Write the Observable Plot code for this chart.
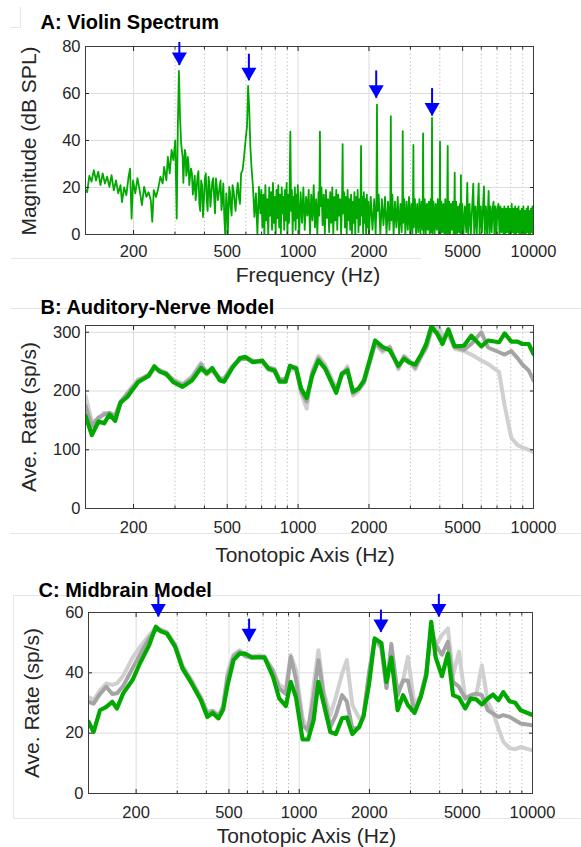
<!DOCTYPE html>
<html>
<head>
<meta charset="utf-8">
<script src="https://cdn.jsdelivr.net/npm/d3@7"></script>
<script src="https://cdn.jsdelivr.net/npm/@observablehq/plot@0.6"></script>
<style>
  body { margin: 0; background: #fff; }
  #wrap { position: relative; width: 581px; height: 847px; overflow: hidden; font-family: "Liberation Sans", Arial, sans-serif; background: #fff; }
  .title { position: absolute; font-weight: bold; font-size: 20px; line-height: 1; color: #000; white-space: nowrap; }
  .xlab { position: absolute; font-size: 21px; line-height: 1; color: #262626; white-space: nowrap; transform: translateX(-50%); }
  .ylab { position: absolute; font-size: 21px; line-height: 1; color: #262626; white-space: nowrap; transform: translate(-50%, -50%) rotate(-90deg); }
  .hl { position: absolute; height: 0; border-top: 1px solid #e6e6e6; }
  .vl { position: absolute; width: 0; border-left: 1px solid #e6e6e6; }
</style>
</head>
<body>
<div id="wrap"></div>
<script>
// ---------------- DATA ----------------
const majorHz = [200, 500, 1000, 2000, 5000, 10000];
const minorHz = [300, 400, 600, 700, 800, 900, 3000, 4000, 6000, 7000, 8000, 9000];

// Panel A: violin spectrum, [frequency Hz, magnitude dB SPL]
const violinSpectrum = [
  [125,19],[127,18],[129.8,25],[132.6,22.5],[135.6,27.4],[138.5,23],[141.6,26.7],[144.7,21],[147.9,26],[151.1,21.7],
  [154.5,24.6],[157.9,20.3],[161.3,25.3],[164.9,18.8],[168.5,23],[172.2,17.5],[176,21],[178.6,13.8],[182.4,20],[186.4,16.7],
  [190.5,24.6],[193.3,28],[196.2,6.8],[199,23],[203.4,17.5],[207.8,24],[212.3,18.9],[217.1,12.5],[221.8,20.3],[226.7,16],
  [231.7,18],[236.7,14.6],[240.2,5.4],[243.7,18.9],[249.1,16],[254.6,19.6],[260.2,24.6],[265.9,21.7],[269.8,28.8],[275.7,23],
  [279.7,33],[284.8,26],[290.1,36],[295.2,31.7],[300.7,40],[305.1,6.8],[308.4,46],[311.7,69.6],[315.1,50],[318.5,38.8],
  [323.2,33],[325.5,22],[327.9,30],[330.3,36],[332.7,34.5],[335,25],[337.6,27.4],[340,33],[342.5,30],[345,21],[347.6,24.6],
  [350.8,28],[354,26],[357.2,17],[360.5,20.3],[363.8,25],[367.1,14.6],[370.4,19],[373.8,24.6],[377.2,27],[380.6,13.2],[384,10],
  [387.5,23],[391,21],[394.6,7.5],[398.2,15],[401.8,23.9],[405.4,26],[409.1,14.6],[412.8,10],[416.6,24.6],[420.4,21],[424.2,11.8],
  [428,17],[432,22.5],[436,24],[439.9,16],[443.9,9],[447.9,23.9],[452,20],[456.1,14.6],[460.1,17],[464.2,20.3],[468.4,23],
  [472.7,10.4],[477,15],[481.3,21.7],[485.7,8],[490.1,0],[495.4,17.5],[499,12],[502.6,0],[506.2,9],[509.9,20.3],[513.6,18],
  [517.4,11.8],[522,8],[526.8,21],[531.6,19],[536.5,14.6],[542.4,10],[548.3,17.5],[554.3,22],[560.3,16],[566.4,13],[572.6,26],
  [581,27.4],[589.5,33],[598.1,40],[606.8,46],[613.4,63.2],[620.1,53.4],
  [626.9,37.4],[633.8,28.8],[643,20.3],[652.4,7.5],[662,17.5],[671.6,0],[681.5,20.3],[691.4,9],
  [698,19],[705,3],[712,17],[719,0],[726,21],[733,6],[740,15],[747,0],[754,20],[761,8],[768,18],[775,2],[782,22],[789,5],
  [796,16],[803,0],[810,19],[817,7],[824,21],[831,3],[838,17],[845,0],[852,20],[859,9],[866,16],[873,2],[880,19],[887,6],
  [894,22],[901,0],[908,17],[915,5],[920,18],[927,43.8],[934,10],[941,19],[948,0],[955,16],[962,6],[969,20],[976,2],[983,17],
  [990,7],[997,21],[1011,0],[1025,18],[1039,5],[1053,20],[1067,2],[1081,16],[1095,8],[1109,19],[1123,0],[1137,17],[1151,6],
  [1165,21],[1179,3],[1193,15],[1207,0],[1221,18],[1230,8],[1238,43.8],[1245,12],[1257,20],[1271,4],[1285,17],[1299,0],
  [1313,19],[1327,7],[1341,15],[1355,1],[1369,18],[1383,5],[1397,20],[1411,0],[1425,16],[1439,6],[1453,19],[1467,2],[1481,17],
  [1495,8],[1509,15],[1523,0],[1537,14],[1546,38.4],[1553,9],[1567,18],[1581,3],[1595,16],[1609,0],[1623,19],[1637,6],
  [1651,15],[1665,2],[1679,17],[1693,0],[1707,14],[1721,5],[1735,18],[1749,0],[1763,16],[1777,7],[1791,19],[1805,1],[1819,15],
  [1833,4],[1843,14],[1851,37.7],[1860,8],[1875,16],[1889,0],[1903,18],[1917,5],[1931,15],[1945,0],[1959,17],[1973,3],[1987,14],
  [2000,0],[2035,16],[2070,2],[2105,15],[2135,0],[2152,14],[2163,55.3],[2174,10],[2200,17],[2235,0],[2270,15],[2305,4],
  [2340,16],[2375,0],[2410,14],[2445,2],[2465,15],[2477,50.4],[2489,6],[2515,17],[2545,0],[2580,14],[2615,3],[2650,16],
  [2685,0],[2720,13],[2755,1],[2772,15],[2783,44],[2795,5],[2825,15],[2855,0],[2890,14],[2925,2],[2960,16],[2995,0],
  [3030,13],[3060,0],[3078,14],[3089,38.1],[3100,3],[3135,15],[3170,0],[3205,13],[3240,1],[3275,15],[3310,0],[3345,14],
  [3380,2],[3396,43],[3412,0],[3450,15],[3485,0],[3520,13],[3555,2],[3590,14],[3625,0],[3660,15],[3690,1],[3706,49.6],
  [3722,0],[3760,14],[3800,0],[3840,13],[3880,2],[3920,15],[3960,0],[3993,13],[4008,39.5],[4023,0],[4060,14],[4100,1],
  [4140,13],[4180,0],[4220,15],[4260,0],[4300,13],[4320,37.7],[4340,0],[4380,14],[4420,0],[4460,13],[4500,2],[4540,14],
  [4580,0],[4612,13],[4627,26.3],[4645,0],[4690,14],[4735,0],[4780,12],[4825,1],[4870,13],[4900,0],[4917,25.3],[4935,0],
  [4980,13],[5040,0],[5110,12],[5180,1],[5232,22],[5280,0],[5350,13],[5420,0],[5490,12],[5548,21.6],[5600,0],[5670,12],
  [5740,0],[5800,13],[5851,21.7],[5900,0],[5970,12],[6040,1],[6110,13],[6160,20.5],[6210,0],[6280,12],[6350,0],[6410,11],
  [6448,18.6],[6500,0],[6570,12],[6640,1],[6710,11],[6765,14],[6820,0],[6890,12],[6960,0],[7030,11],[7100,13],[7170,0],
  [7240,12],[7310,1],[7380,11],[7450,0],[7520,12],[7590,0],[7660,11],[7730,1],[7800,12],[7870,0],[7940,11],[8010,0],
  [8080,13],[8150,1],[8220,11],[8290,0],[8360,12],[8430,0],[8500,11],[8570,1],[8640,12],[8710,0],[8780,10],[8850,0],
  [8920,11],[8990,1],[9060,12],[9130,0],[9200,10],[9270,0],[9340,11],[9410,1],[9480,12],[9550,0],[9620,10],[9690,0],
  [9760,11],[9830,1],[9900,12],[9960,0],[10000,9]
];
const arrowHzA  = [313, 618, 2147, 3708];
const arrowTipA = [71.9, 65.4, 58, 50.4];
const arrowTopA = [81.7, 76.7, 69.6, 62.1];

// Panel B: auditory-nerve model, average rate (sp/s)
const freqB = [125,133,142,150,158,167,176,188,209,232,245,258,275,295,323,354,387,409,432,465,485,527,566,598,643,704,749,794,834,885,923,982,1030,1087,1148,1220,1303,1452,1534,1620,1711,1805,1905,2125,2283,2453,2667,2818,2945,3143,3342,3501,3683,3901,4104,4348,4623,5061,5443,6002,6408,7145,7541,8050,8557,8970,9540,10000];
const anGreen = [158,125,148,145,160,149,180,190,215,226,242,233,229,215,207,218,239,230,239,218,216,240,256,258,249,252,238,235,216,216,243,238,204,188,226,252,238,197,229,235,199,204,218,286,275,269,243,255,249,245,263,280,310,297,280,305,276,277,294,276,286,283,298,284,284,280,280,263];
const anGray  = [175,140,155,160,163,158,182,195,217,228,240,235,231,218,210,222,245,232,236,222,220,242,254,255,251,250,240,237,220,220,240,240,200,182,230,256,240,200,230,238,196,203,215,282,270,274,240,258,252,240,262,275,305,300,285,300,275,270,280,300,274,266,262,268,256,245,235,218];
const anLight = [192,148,152,163,158,155,178,197,220,224,238,236,227,220,212,225,248,228,234,220,222,243,252,257,252,248,236,232,218,222,236,236,196,170,235,260,245,205,225,242,192,200,214,280,266,276,237,260,253,237,258,272,300,313,295,296,272,268,262,252,246,232,175,120,108,104,100,96];

// Panel C: midbrain model, average rate (sp/s)
const freqC = [125,131.5,140,149,158,165.5,176,193,207.5,227.5,243,255,271,294,316,346,379,404,426,451,472,493,523,556,587,627,679,710,772,821,877,920,968,1034,1092,1153,1209,1273,1360,1436,1527,1600,1690,1806,1887,1994,2106,2250,2366,2483,2642,2788,2924,3121,3321,3507,3679,3845,4091,4338,4566,4839,5148,5436,5740,6065,6434,6767,7146,7495,7976,8431,8897,10000];
const mbGreen = [23.8,20.4,27.6,28.7,30.4,28.2,33.2,37.6,43.1,49.2,55.3,53.8,53,48.6,41.4,36.5,30.9,25.4,26.7,24.9,27.8,35.9,44.2,46.4,46.4,45.1,45.1,45.1,38.7,31.5,29,37,32,17.9,17.9,24.3,37,29.8,20.4,19.7,24.9,25.2,19.7,22.1,25.6,36.5,51.4,49.9,37,45.1,27.6,32.6,29.3,26.7,32,39.2,56.9,45.1,38.9,46.4,32.6,31.8,28.2,31.5,31.2,29.5,31.5,32.8,30.9,33.6,30.6,30.1,27.6,26];
const mbGray  = [30.4,29.8,33,35.4,33,33.2,35.6,41.5,46,51.5,54.3,54,53.3,49,42,37,31.5,26.5,27.3,25.6,28.5,38.5,45.5,47,45.5,45,45.3,45,40.5,34.8,33,45.3,38,22.6,21,32,44.2,32.6,22,26,32.6,30.5,21.5,21.8,26,40,51,49,35,49.6,32.6,37.5,37.5,27,32.6,40,55,49.2,46,50.3,37,35.4,31.5,32.6,33.1,32.6,27.6,26.5,25.4,26,25.4,24.3,23.2,22.6];
const mbLight = [32,31,34.2,36.5,36,36.5,39,45,48.5,52.5,55,54.5,53.5,49.5,42.5,37.5,32,27,27.5,26,29,40,46,47.5,46,45.5,45.8,45.5,41,36,34.8,45.9,41,25,20.5,36,47.5,33.7,26,32,39.7,44.2,29.3,25,25.4,40.5,50.5,48,35,47.5,33.7,37.5,45.3,29.3,32.6,40,54,49,52.5,54.7,39.2,47,31.5,31.5,32.6,42.5,30.4,27,21.5,17.2,15,14.7,15.4,14.3];
const arrowHzC  = [249, 610, 2241, 3968];
const arrowTipC = [58.5, 50.3, 53.4, 58.5];
const arrowTopC = [66, 57.8, 60.8, 66];

const yTicksA = [0, 20, 40, 60, 80];
const yTicksB = [0, 100, 200, 300];
const yTicksC = [0, 20, 40, 60];

// ---------------- STYLE ----------------
const GREEN = "#00a800";
const GRAY = "#a4a4a4";
const LIGHT = "#d0d0d0";
const BLUE = "#0000ff";
const FONT = "'Liberation Sans', Arial, Helvetica, sans-serif";

const arrowHead = {
  draw(ctx) { ctx.moveTo(0, 0); ctx.lineTo(-7.5, -13); ctx.lineTo(7.5, -13); ctx.closePath(); }
};

function toRows(xs, ys) { return xs.map((x, i) => ({x, y: ys[i]})); }
function arrowRows(xs, tips, tops) { return xs.map((x, i) => ({x, tip: tips[i], top: tops[i]})); }

function gridMarks(yTicks) {
  return [
    Plot.gridX({ticks: minorHz, stroke: "#b8b8b8", strokeOpacity: 1, strokeDasharray: "1.2,2.6"}),
    Plot.gridX({ticks: majorHz, stroke: "#dcdcdc", strokeOpacity: 1}),
    Plot.gridY({ticks: yTicks, stroke: "#dcdcdc", strokeOpacity: 1})
  ];
}
function axisMarks(yTicks, xPad) {
  const blank = () => "";
  return [
    Plot.axisX({anchor: "bottom", ticks: majorHz, tickSize: 0, tickPadding: xPad, tickFormat: d => String(d), label: null, fontSize: 16.5}),
    Plot.axisY({anchor: "left", ticks: yTicks, tickSize: 0, tickPadding: 5, tickFormat: d => String(d), label: null, fontSize: 16.5}),
    Plot.axisX({anchor: "bottom", ticks: majorHz, tickSize: -4, tickFormat: blank, label: null}),
    Plot.axisX({anchor: "top", ticks: majorHz, tickSize: -4, tickFormat: blank, label: null}),
    Plot.axisX({anchor: "bottom", ticks: minorHz, tickSize: -2.5, tickFormat: blank, label: null}),
    Plot.axisX({anchor: "top", ticks: minorHz, tickSize: -2.5, tickFormat: blank, label: null}),
    Plot.axisY({anchor: "left", ticks: yTicks, tickSize: -4, tickFormat: blank, label: null}),
    Plot.axisY({anchor: "right", ticks: yTicks, tickSize: -4, tickFormat: blank, label: null}),
    Plot.frame({stroke: "#3c3c3c", strokeWidth: 1})
  ];
}
function arrowMarks(rows) {
  return [
    Plot.ruleX(rows, {x: "x", y1: "tip", y2: "top", stroke: BLUE, strokeWidth: 2}),
    Plot.dot(rows, {x: "x", y: "tip", symbol: arrowHead, r: 5, fill: BLUE, stroke: "none"})
  ];
}
function svgStyle(top) {
  return {position: "absolute", left: "0px", top: top + "px", background: "transparent", color: "#262626", fontFamily: FONT, fontSize: "16.5px", overflow: "visible"};
}

const wrap = document.getElementById("wrap");

// decorative faint frame lines from the original figure
function deco(cls, left, top, len) {
  const d = document.createElement("div");
  d.className = cls;
  d.style.left = left + "px"; d.style.top = top + "px";
  if (cls === "hl") d.style.width = len + "px"; else d.style.height = len + "px";
  wrap.appendChild(d);
}
deco("vl", 20, 7, 20); deco("hl", 10, 27, 11);
deco("hl", 11, 258, 410);
deco("hl", 10, 308, 571);
deco("hl", 10, 533, 571);
deco("vl", 13, 595, 223); deco("hl", 13, 595, 568); deco("hl", 13, 818, 568);

// ---------------- PANEL A ----------------
const plotA = Plot.plot({
  width: 581, height: 262,
  marginLeft: 85, marginRight: 48, marginTop: 46, marginBottom: 28,
  style: svgStyle(0),
  x: {type: "log", domain: [125, 10000], axis: null},
  y: {domain: [0, 80], axis: null},
  marks: [
    ...gridMarks(yTicksA),
    Plot.line(violinSpectrum, {x: d => d[0], y: d => d[1], stroke: GREEN, strokeWidth: 1.8, clip: true}),
    ...axisMarks(yTicksA, 11),
    ...arrowMarks(arrowRows(arrowHzA, arrowTipA, arrowTopA))
  ]
});
wrap.appendChild(plotA);

// ---------------- PANEL B ----------------
const plotB = Plot.plot({
  width: 581, height: 236,
  marginLeft: 85, marginRight: 48, marginTop: 25, marginBottom: 28,
  style: svgStyle(300),
  x: {type: "log", domain: [125, 10000], axis: null},
  y: {domain: [0, 311.5], axis: null},
  marks: [
    ...gridMarks(yTicksB),
    Plot.line(toRows(freqB, anLight), {x: "x", y: "y", stroke: LIGHT, strokeWidth: 4, clip: true}),
    Plot.line(toRows(freqB, anGray), {x: "x", y: "y", stroke: GRAY, strokeWidth: 4, clip: true}),
    Plot.line(toRows(freqB, anGreen), {x: "x", y: "y", stroke: GREEN, strokeWidth: 4.2, clip: true}),
    ...axisMarks(yTicksB, 13)
  ]
});
wrap.appendChild(plotB);

// ---------------- PANEL C ----------------
const plotC = Plot.plot({
  width: 581, height: 236,
  marginLeft: 88, marginRight: 49, marginTop: 27, marginBottom: 28,
  style: svgStyle(585),
  x: {type: "log", domain: [125, 10000], axis: null},
  y: {domain: [0, 60], axis: null},
  marks: [
    ...gridMarks(yTicksC),
    Plot.line(toRows(freqC, mbLight), {x: "x", y: "y", stroke: LIGHT, strokeWidth: 4, clip: true}),
    Plot.line(toRows(freqC, mbGray), {x: "x", y: "y", stroke: GRAY, strokeWidth: 4, clip: true}),
    Plot.line(toRows(freqC, mbGreen), {x: "x", y: "y", stroke: GREEN, strokeWidth: 4.2, clip: true}),
    ...axisMarks(yTicksC, 13),
    ...arrowMarks(arrowRows(arrowHzC, arrowTipC, arrowTopC))
  ]
});
wrap.appendChild(plotC);

// ---------------- TEXT ----------------
function addText(cls, txt, left, top) {
  const d = document.createElement("div");
  d.className = cls; d.textContent = txt;
  d.style.left = left + "px"; d.style.top = top + "px";
  wrap.appendChild(d);
}
addText("title", "A: Violin Spectrum", 40.5, 12.3);
addText("title", "B: Auditory-Nerve Model", 40.5, 297.3);
addText("title", "C: Midbrain Model", 38.5, 580);
addText("xlab", "Frequency (Hz)", 308, 264);
addText("xlab", "Tonotopic Axis (Hz)", 305, 544);
addText("xlab", "Tonotopic Axis (Hz)", 306.5, 825.3);
addText("ylab", "Magnitude (dB SPL)", 27.5, 140.5);
addText("ylab", "Ave. Rate (sp/s)", 28, 416.5);
addText("ylab", "Ave. Rate (sp/s)", 30.5, 702.5);
</script>
</body>
</html>
